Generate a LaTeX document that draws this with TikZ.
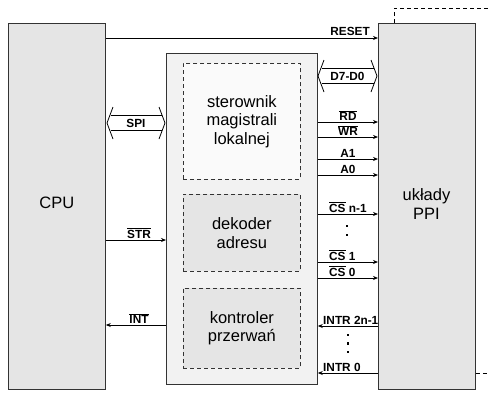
\documentclass[tikz,border=0pt]{standalone}
\usepackage{fontspec}
\setmainfont{Liberation Sans}
\usetikzlibrary{arrows.meta,calc}
\newcommand{\ovl}[1]{\ensuremath{\overline{\mbox{#1}}}}
\tikzset{
  blk/.style={draw=black!80,line width=0.8pt,inner sep=0pt,anchor=north west},
  bigtxt/.style={font=\fontsize{16.5}{18.5}\selectfont,align=center},
  dbox/.style={draw=black!80,dashed,dash pattern=on 4pt off 3pt,line width=0.7pt,inner sep=0pt,anchor=north west,bigtxt},
  sig/.style={line width=0.8pt,-{Stealth[length=5pt,width=4pt]}},
  lbl/.style={font=\fontsize{11.8}{13}\selectfont\bfseries,inner sep=1pt},
  busl/.style={line width=0.8pt},
  ext/.style={line width=0.7pt,dashed,dash pattern=on 4pt off 3pt},
  dotn/.style={fill=black,minimum size=2.4pt,inner sep=0pt,rectangle}
}
\newcommand{\bus}[3]{% x1 x2 y
  \draw[busl] ({#1+6},{#3-16}) -- (#1,#3) -- ({#1+6},{#3+16});
  \draw[busl] ({#2-6},{#3-16}) -- (#2,#3) -- ({#2-6},{#3+16});
  \draw[busl] ({#1+3.5},{#3-7.5}) -- ({#2-3.5},{#3-7.5});
  \draw[busl] ({#1+3.5},{#3+7.5}) -- ({#2-3.5},{#3+7.5});
}
\begin{document}
\begin{tikzpicture}[x=1pt,y=-1pt]
\useasboundingbox (0,0) rectangle (489,392);
% blocks
\node[blk,fill=black!10,minimum width=97pt,minimum height=366pt] (cpu) at (8,23) {};
\node[blk,fill=black!5,minimum width=151pt,minimum height=331pt] (mid) at (166,53) {};
\node[dbox,fill=black!2,minimum width=117pt,minimum height=116pt] (b1) at (183,63) {sterownik\\magistrali\\lokalnej};
\node[dbox,fill=black!10,minimum width=117pt,minimum height=77pt] (b2) at (183,194) {dekoder\\adresu};
\node[dbox,fill=black!10,minimum width=117pt,minimum height=80pt] (b3) at (183,288) {kontroler\\przerwań};
\node[blk,minimum width=97pt,minimum height=366pt] (ppi) at (378,23) {};
\node[bigtxt] at ($(cpu.center)+(0,-4)$) {CPU};
% RESET
\draw[sig] (cpu.east |- 0,38) -- (ppi.west |- 0,38);
\node[lbl,anchor=south east] at (371,37) {RESET};
% buses
\bus{107}{165}{123}
\node[lbl] at (136,123) {SPI};
\bus{318}{377}{76}
\node[lbl] at (347.5,76) {D7-D0};
% signals to PPI
\foreach \y/\t in {122/{\ovl{RD}},137/{\ovl{WR}},159/{A1},175/{A0}}{
  \draw[sig] (mid.east |- 0,\y) -- (ppi.west |- 0,\y);
  \node[lbl,anchor=south] at (348,{\y-0.5}) {\t};
}
\foreach \y/\t in {214/{\ovl{CS} n-1},262/{\ovl{CS} 1},278/{\ovl{CS} 0}}{
  \draw[sig] (mid.east |- 0,\y) -- (ppi.west |- 0,\y);
  \node[lbl,anchor=south west] at (328,{\y-0.5}) {\t};
}
\node[dotn] at (347,226) {};
\node[dotn] at (347,235) {};
% interrupts
\foreach \y/\t in {326/{INTR 2n-1},373/{INTR 0}}{
  \draw[sig] (ppi.west |- 0,\y) -- (mid.east |- 0,\y);
  \node[lbl,anchor=south west] at (322,{\y-0.5}) {\t};
}
\node[dotn] at (348,335) {};
\node[dotn] at (348,343.5) {};
\node[dotn] at (348,352) {};
% redraw PPI on top of labels
\path[blk,fill=black!10] (ppi.north west) rectangle (ppi.south east);
\node[bigtxt] at (426.5,204) {układy\\PPI};
% CPU <-> mid
\draw[sig] (cpu.east |- 0,240) -- (mid.west |- 0,240);
\node[lbl,anchor=south] at (139,239.5) {\ovl{STR}};
\draw[sig] (mid.west |- 0,325) -- (cpu.east |- 0,325);
\node[lbl,anchor=south] at (139,324.5) {\ovl{INT}};
% external dashed
\coordinate (e1) at (489,8);
\coordinate (e2) at (489,373);
\draw[ext] (ppi.north -| 394,0) -- (394,8) -- (e1);
\draw[ext] (ppi.east |- e2) -- (e2);
\end{tikzpicture}
\end{document}
